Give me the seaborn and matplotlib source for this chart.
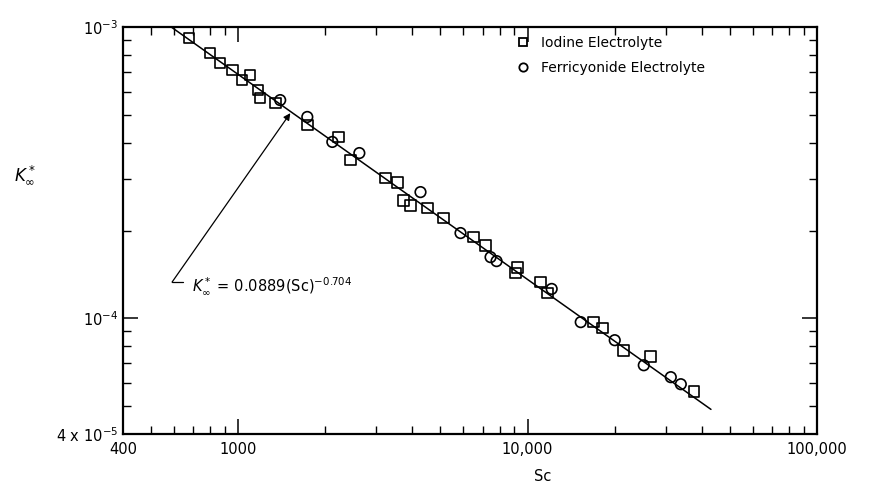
import numpy as np
import pandas as pd
import matplotlib
matplotlib.use("Agg")
import matplotlib.pyplot as plt
import matplotlib.ticker as mticker
from matplotlib.lines import Line2D
import seaborn as sns

# Iodine electrolyte data (squares)
iodine_sc = [677, 800, 866, 954, 1032, 1100, 1172, 1191, 1343, 1733, 2218, 2441,
             3226, 3550, 3723, 3937, 4508, 5121, 6503, 7155, 9232, 9087, 11090,
             11730, 16920, 18180, 21490, 26640, 37530]
iodine_k = [9.17e-4, 8.14e-4, 7.52e-4, 7.11e-4, 6.57e-4, 6.84e-4, 6.07e-4, 5.70e-4,
            5.48e-4, 4.60e-4, 4.19e-4, 3.49e-4, 3.03e-4, 2.93e-4, 2.54e-4, 2.44e-4,
            2.39e-4, 2.21e-4, 1.90e-4, 1.78e-4, 1.49e-4, 1.43e-4, 1.33e-4, 1.22e-4,
            9.69e-5, 9.24e-5, 7.76e-5, 7.40e-5, 5.61e-5]

# Ferricyanide electrolyte data (circles)
ferri_sc = [1397, 1733, 2115, 2622, 4265, 5864, 7447, 7811, 12110, 15260, 20000,
            25200, 31240, 33830]
ferri_k = [5.61e-4, 4.91e-4, 4.03e-4, 3.69e-4, 2.71e-4, 1.96e-4, 1.62e-4, 1.57e-4,
           1.26e-4, 9.69e-5, 8.40e-5, 6.89e-5, 6.27e-5, 5.93e-5]

# correlation line end points
line_sc = [587, 43000]
line_k = [1.0e-3, 4.86e-5]

labels = ["Iodine Electrolyte", "Ferricyonide Electrolyte"]

df = pd.concat([
    pd.DataFrame({"Sc": iodine_sc, "K": iodine_k, "electrolyte": labels[0]}),
    pd.DataFrame({"Sc": ferri_sc, "K": ferri_k, "electrolyte": labels[1]}),
])

sns.set_style("white")
plt.rcParams["font.family"] = ["DejaVu Sans"]
plt.rcParams["mathtext.fontset"] = "dejavusans"
plt.rcParams["text.color"] = "black"
plt.rcParams["axes.labelcolor"] = "black"

fig = plt.figure(figsize=(8.73, 4.84), dpi=100)
ax = fig.add_axes([0.1409, 0.1033, 0.795, 0.8409])

sns.lineplot(x=line_sc, y=line_k, color="black", linewidth=1.1, ax=ax)
sns.scatterplot(data=df, x="Sc", y="K", style="electrolyte",
                markers={labels[0]: "s", labels[1]: "o"}, s=58,
                facecolors="none", edgecolor="black", linewidth=1.2,
                legend=False, ax=ax, zorder=3)

ax.set_xscale("log")
ax.set_yscale("log")
ax.set_xlim(400, 100000)
ax.set_ylim(4e-5, 1e-3)

ax.set_xticks([400, 1000, 10000, 100000])
ax.set_xticklabels(["400", "1000", "10,000", "100,000"])
ax.set_yticks([4e-5, 1e-4, 1e-3])
ax.set_yticklabels([r"4 x $10^{-5}$", r"$10^{-4}$", r"$10^{-3}$"])
ax.xaxis.set_minor_locator(mticker.LogLocator(base=10, subs=np.arange(2, 10), numticks=20))
ax.yaxis.set_minor_locator(mticker.LogLocator(base=10, subs=np.arange(2, 10), numticks=20))
ax.xaxis.set_minor_formatter(mticker.NullFormatter())
ax.yaxis.set_minor_formatter(mticker.NullFormatter())
ax.tick_params(which="both", direction="in", top=True, right=True,
               bottom=True, left=True, colors="black", labelsize=10.5)
ax.tick_params(which="major", length=11, width=1.1)
ax.tick_params(which="minor", length=6, width=1.0)
ax.tick_params(axis="x", which="major", pad=6)
for sp in ax.spines.values():
    sp.set_linewidth(1.6)
    sp.set_color("black")

ax.set_xlabel("Sc", fontsize=10.5)
ax.xaxis.set_label_coords(0.604, -0.085)
ax.set_ylabel(r"$K^*_\infty$", fontsize=12, rotation=0)
ax.yaxis.set_label_coords(-0.141, 0.61)

# equation annotation
ax.annotate("", xy=(1514, 5.06e-4), xytext=(591, 1.33e-4),
            arrowprops=dict(arrowstyle="-|>", color="black", lw=0.9,
                            mutation_scale=10, shrinkA=0, shrinkB=0))
ax.plot([591, 645], [1.33e-4, 1.33e-4], color="black", lw=0.9)
ax.text(693, 1.28e-4, r"$K^*_\infty$ = 0.0889(Sc)$^{-0.704}$", fontsize=10.5,
        ha="left", va="center")

handles = [
    Line2D([], [], marker="s", linestyle="none", markerfacecolor="none",
           markeredgecolor="black", markersize=6, markeredgewidth=1.3),
    Line2D([], [], marker="o", linestyle="none", markerfacecolor="none",
           markeredgecolor="black", markersize=6, markeredgewidth=1.3),
]
ax.legend(handles, labels, loc="upper left", bbox_to_anchor=(0.566, 0.978),
          frameon=False, fontsize=10, handlelength=1.0, handletextpad=0.8,
          labelspacing=0.8, borderpad=0, borderaxespad=0)

fig.savefig("out.png", dpi=100)
